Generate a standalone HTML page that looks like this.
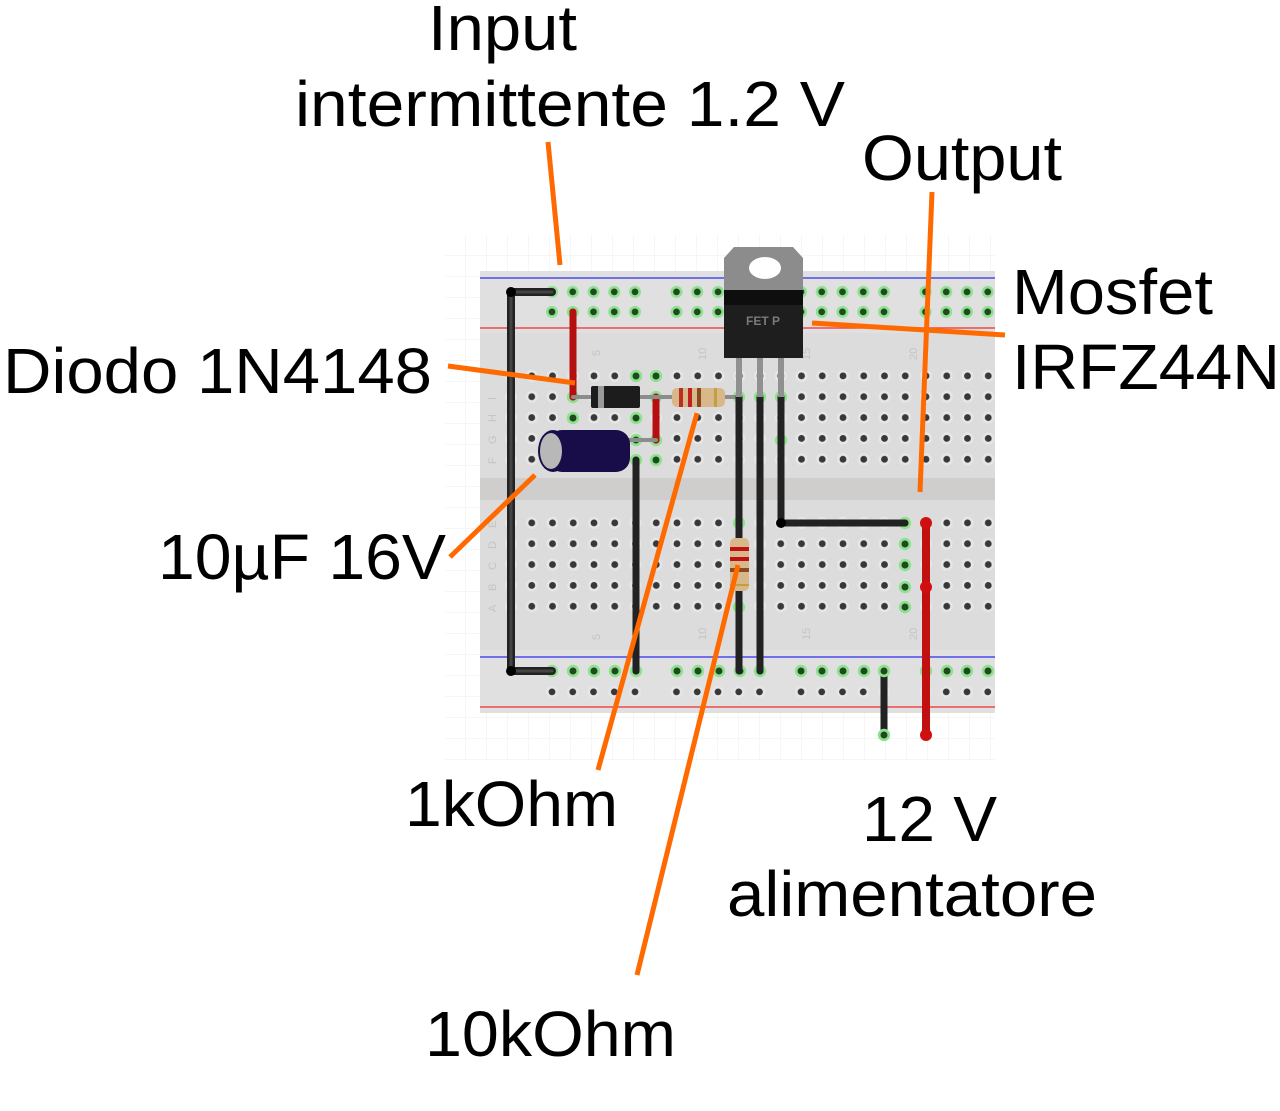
<!DOCTYPE html>
<html><head><meta charset="utf-8"><style>
html,body{margin:0;padding:0;background:#fff;width:1280px;height:1111px;overflow:hidden}
svg{display:block}
text{font-family:"Liberation Sans",Arial,sans-serif}
</style></head><body>
<svg width="1280" height="1111" viewBox="0 0 1280 1111" xmlns="http://www.w3.org/2000/svg">
<defs>
<pattern id="grid" x="445" y="235" width="21" height="21" patternUnits="userSpaceOnUse">
<path d="M21 0V21H0" fill="none" stroke="#eeeeee" stroke-width="1"/>
</pattern>
<pattern id="holeB" x="500.6" y="512.5" width="20.75" height="20.85" patternUnits="userSpaceOnUse">
<circle cx="10.4" cy="10.4" r="6" fill="#e6e6e6"/>
<circle cx="10.4" cy="10.4" r="3.4" fill="#383838"/>
</pattern>
<pattern id="holeT" x="500.6" y="365.5" width="20.75" height="20.85" patternUnits="userSpaceOnUse">
<circle cx="10.4" cy="10.4" r="6" fill="#e6e6e6"/>
<circle cx="10.4" cy="10.4" r="3.4" fill="#383838"/>
</pattern>
<pattern id="railG" x="541.6" y="281.5" width="124.5" height="20" patternUnits="userSpaceOnUse">
<g fill="#8fe08f"><circle cx="10.4" cy="10.4" r="6"/><circle cx="31.15" cy="10.4" r="6"/><circle cx="51.9" cy="10.4" r="6"/><circle cx="72.65" cy="10.4" r="6"/><circle cx="93.4" cy="10.4" r="6"/></g>
<g fill="#1f4a1f"><circle cx="10.4" cy="10.4" r="3.4"/><circle cx="31.15" cy="10.4" r="3.4"/><circle cx="51.9" cy="10.4" r="3.4"/><circle cx="72.65" cy="10.4" r="3.4"/><circle cx="93.4" cy="10.4" r="3.4"/></g>
</pattern>
<pattern id="railD" x="541.6" y="681.5" width="124.5" height="20" patternUnits="userSpaceOnUse">
<g fill="#e6e6e6"><circle cx="10.4" cy="10.4" r="6"/><circle cx="31.15" cy="10.4" r="6"/><circle cx="51.9" cy="10.4" r="6"/><circle cx="72.65" cy="10.4" r="6"/><circle cx="93.4" cy="10.4" r="6"/></g>
<g fill="#383838"><circle cx="10.4" cy="10.4" r="3.4"/><circle cx="31.15" cy="10.4" r="3.4"/><circle cx="51.9" cy="10.4" r="3.4"/><circle cx="72.65" cy="10.4" r="3.4"/><circle cx="93.4" cy="10.4" r="3.4"/></g>
</pattern>
<g id="gh"><circle r="6.2" fill="#8fe08f"/><circle r="3.5" fill="#1f4a1f"/></g>
</defs>

<rect x="445" y="235" width="550" height="525" fill="url(#grid)"/>
<rect x="480" y="271" width="515" height="442" fill="#dcdcdc"/>
<rect x="480" y="271" width="515" height="62" fill="#e0e0e0"/>
<rect x="480" y="650" width="515" height="63" fill="#e0e0e0"/>
<rect x="480" y="478" width="515" height="22" fill="#cfcecc"/>
<line x1="480" y1="278" x2="995" y2="278" stroke="#4a4aee" stroke-width="1.5"/>
<line x1="480" y1="328" x2="995" y2="328" stroke="#ee4a4a" stroke-width="1.5"/>
<line x1="480" y1="657" x2="995" y2="657" stroke="#4a4aee" stroke-width="1.5"/>
<line x1="480" y1="707" x2="995" y2="707" stroke="#ee4a4a" stroke-width="1.5"/>

<rect x="500.6" y="365.5" width="494" height="105" fill="url(#holeT)"/>
<rect x="500.6" y="512.5" width="494" height="105" fill="url(#holeB)"/>
<rect x="541.6" y="281.5" width="453" height="40" fill="url(#railG)"/>
<rect x="541.6" y="681.5" width="453" height="20" fill="url(#railD)"/>
<g>
<use href="#gh" x="552" y="671"/><use href="#gh" x="573" y="671"/><use href="#gh" x="594" y="671"/><use href="#gh" x="615" y="671"/><use href="#gh" x="636" y="671"/>
<use href="#gh" x="677" y="671"/><use href="#gh" x="698" y="671"/><use href="#gh" x="719" y="671"/><use href="#gh" x="740" y="671"/><use href="#gh" x="760" y="671"/>
<use href="#gh" x="801" y="671"/><use href="#gh" x="822" y="671"/><use href="#gh" x="843" y="671"/><use href="#gh" x="864" y="671"/><use href="#gh" x="884" y="671"/>
<use href="#gh" x="926" y="671"/><use href="#gh" x="947" y="671"/><use href="#gh" x="967" y="671"/><use href="#gh" x="988" y="671"/>
</g>
<g fill="#c4c4c4" font-size="11">
<text transform="translate(600,356) rotate(-90)">5</text>
<text transform="translate(706,360) rotate(-90)">10</text>
<text transform="translate(810,360) rotate(-90)">15</text>
<text transform="translate(917,360) rotate(-90)">20</text>
<text transform="translate(600,640) rotate(-90)">5</text>
<text transform="translate(706,640) rotate(-90)">10</text>
<text transform="translate(810,640) rotate(-90)">15</text>
<text transform="translate(917,640) rotate(-90)">20</text>
<text transform="translate(496,400) rotate(-90)">I</text>
<text transform="translate(496,422) rotate(-90)">H</text>
<text transform="translate(496,444) rotate(-90)">G</text>
<text transform="translate(496,464) rotate(-90)">F</text>
<text transform="translate(496,528) rotate(-90)">E</text>
<text transform="translate(496,549) rotate(-90)">D</text>
<text transform="translate(496,570) rotate(-90)">C</text>
<text transform="translate(496,591) rotate(-90)">B</text>
<text transform="translate(496,612) rotate(-90)">A</text>
</g>
<g>
<use href="#gh" x="636" y="376"/><use href="#gh" x="656" y="376"/>
<use href="#gh" x="573" y="397"/><use href="#gh" x="656" y="397"/><use href="#gh" x="739" y="397"/><use href="#gh" x="760" y="397"/><use href="#gh" x="781" y="397"/>
<use href="#gh" x="573" y="418"/><use href="#gh" x="636" y="418"/>
<use href="#gh" x="636" y="440"/><use href="#gh" x="656" y="440"/><use href="#gh" x="781" y="440"/>
<use href="#gh" x="636" y="460"/><use href="#gh" x="656" y="460"/>
<use href="#gh" x="739" y="523"/><use href="#gh" x="905" y="523"/>
<use href="#gh" x="905" y="544"/><use href="#gh" x="905" y="565"/><use href="#gh" x="905" y="587"/><use href="#gh" x="905" y="607"/><use href="#gh" x="739" y="607"/>
</g>

<g fill="none" stroke-linecap="round" stroke-linejoin="round">
<path d="M552 292H511V671H552" stroke="#222" stroke-width="8"/>
<path d="M552 292H511V671H552" stroke="#444" stroke-width="3"/>
<path d="M573 312V397" stroke="#b50f0f" stroke-width="7"/>
<path d="M656 397V440" stroke="#b50f0f" stroke-width="7"/>
<path d="M573 397H656" stroke="#8c8c8c" stroke-width="4"/>
<path d="M656 397H739" stroke="#8c8c8c" stroke-width="4"/>
<path d="M628 440H656" stroke="#8c8c8c" stroke-width="4"/>
<path d="M636 460V671" stroke="#222" stroke-width="7"/>
<path d="M739 397V671" stroke="#222" stroke-width="7"/>
<path d="M760 397V671" stroke="#222" stroke-width="7"/>
<path d="M781 397V523H905" stroke="#222" stroke-width="7"/>
<path d="M884 671V735" stroke="#222" stroke-width="7"/>
<path d="M926 523V735" stroke="#c01010" stroke-width="8"/>
<path d="M739 358V397M760 358V397M781 358V397" stroke="#909090" stroke-width="6" stroke-linecap="butt"/>
</g>
<circle cx="511" cy="292" r="5" fill="#000"/><circle cx="511" cy="671" r="5" fill="#000"/>
<circle cx="781" cy="523" r="5" fill="#000"/>
<use href="#gh" x="884" y="671"/><use href="#gh" x="884" y="735"/>
<circle cx="926" cy="523" r="6" fill="#d01010"/><circle cx="926" cy="587" r="6" fill="#d01010"/><circle cx="926" cy="735" r="6" fill="#d01010"/>

<rect x="591" y="386" width="49" height="22" rx="2" fill="#1c1c1c"/>
<rect x="598" y="386" width="6" height="22" fill="#9a9a9a"/>
<rect x="672" y="388" width="53" height="19" rx="5" fill="#d8b88a"/>
<rect x="679" y="388" width="4" height="19" fill="#b83020"/>
<rect x="688" y="388" width="4" height="19" fill="#c02020"/>
<rect x="697" y="388" width="4" height="19" fill="#8a4a20"/>
<rect x="714" y="388" width="3" height="19" fill="#c0a040"/>
<rect x="730" y="538" width="19" height="53" rx="5" fill="#d8b88a"/>
<rect x="730" y="547" width="19" height="4" fill="#c01010"/>
<rect x="730" y="557" width="19" height="4" fill="#c01010"/>
<rect x="730" y="568" width="19" height="4" fill="#8a4a20"/>
<rect x="730" y="584" width="19" height="2" fill="#c0a040"/>
<rect x="548" y="430" width="82" height="42" rx="14" fill="#180d48"/>
<ellipse cx="553" cy="451" rx="15" ry="21" fill="#180d48"/>
<ellipse cx="551" cy="451" rx="11" ry="18" fill="#b8b8b8"/>
<path d="M724 258L734 247H793L803 258V290H724Z" fill="#8c8c8c"/>
<ellipse cx="765" cy="268" rx="16" ry="11" fill="#fff"/>
<rect x="724" y="290" width="79" height="15" fill="#0e0e0e"/>
<rect x="724" y="305" width="79" height="53" fill="#1e1e1e"/>
<text x="763" y="325" font-size="12" font-weight="bold" fill="#7a7a7a" text-anchor="middle">FET P</text>

<g stroke="#ff6a00" stroke-width="5" fill="none">
<line x1="548" y1="142" x2="560" y2="265"/>
<line x1="932" y1="192" x2="920" y2="492"/>
<line x1="812" y1="323" x2="1005" y2="335"/>
<line x1="448" y1="366" x2="575" y2="383"/>
<line x1="450" y1="557" x2="535" y2="475"/>
<line x1="598" y1="770" x2="697" y2="413"/>
<line x1="637" y1="975" x2="738" y2="565"/>
</g>

<g font-size="64" fill="#000">
<text x="428" y="50" textLength="149" lengthAdjust="spacingAndGlyphs">Input</text>
<text x="295" y="126" textLength="550" lengthAdjust="spacingAndGlyphs">intermittente 1.2 V</text>
<text x="862" y="180" textLength="200" lengthAdjust="spacingAndGlyphs">Output</text>
<text x="1012" y="314" textLength="201" lengthAdjust="spacingAndGlyphs">Mosfet</text>
<text x="1012" y="389" textLength="268" lengthAdjust="spacingAndGlyphs">IRFZ44N</text>
<text x="3" y="393" textLength="429" lengthAdjust="spacingAndGlyphs">Diodo 1N4148</text>
<text x="158" y="579" textLength="288" lengthAdjust="spacingAndGlyphs">10µF 16V</text>
<text x="405" y="826" textLength="213" lengthAdjust="spacingAndGlyphs">1kOhm</text>
<text x="862" y="841" textLength="135" lengthAdjust="spacingAndGlyphs">12 V</text>
<text x="727" y="916" textLength="370" lengthAdjust="spacingAndGlyphs">alimentatore</text>
<text x="425" y="1056" textLength="251" lengthAdjust="spacingAndGlyphs">10kOhm</text>
</g>
</svg>
</body></html>
